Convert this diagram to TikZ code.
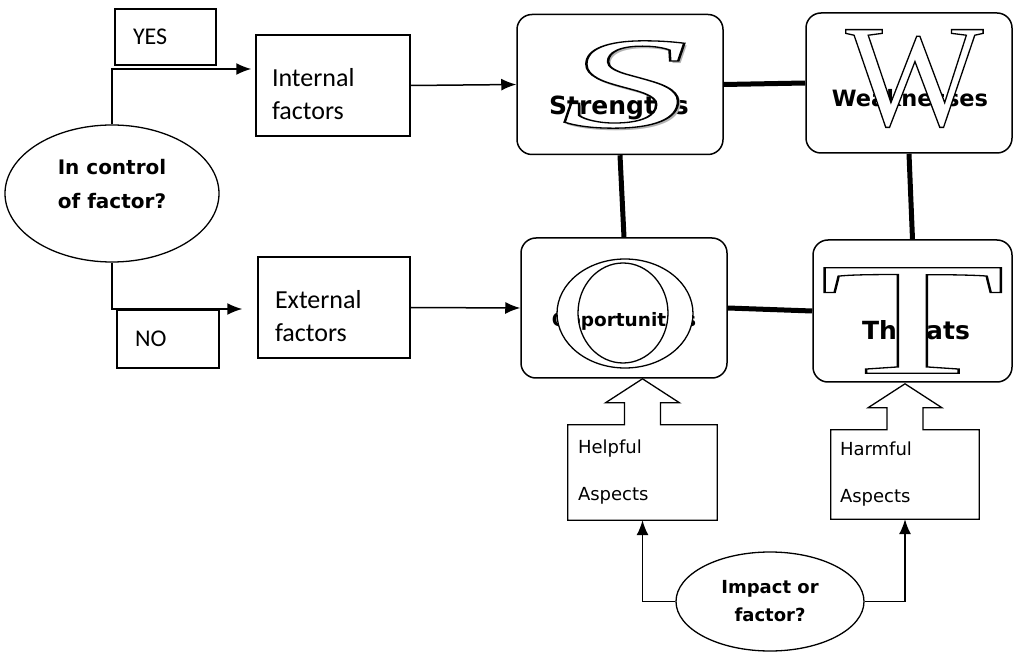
\documentclass[tikz,border=0pt]{standalone}
\usepackage{fontspec}
\setmainfont{Carlito}
\newfontfamily\aspectfont{DejaVu Sans}
\newfontfamily\headfont{DejaVu Sans}
\newfontfamily\letterfont{Liberation Serif}
\usepackage{graphicx}
\usetikzlibrary{shapes.geometric, positioning, calc, arrows.meta}

\newcommand{\hollow}[1]{\special{pdf:literal direct 2 Tr 0 G 1.3 w}#1\special{pdf:literal direct 0 Tr}}
\newcommand{\upcallout}[1]{%
  \draw[line width=1.3pt] (#1.north west) -- ($(#1.north)+(-18,0)$) -- ++(0,-22) -- ++(-19,0)
    -- ($(#1.north)+(0,-46)$) -- ++(37,24) -- ++(-19,0) -- ++(0,22)
    -- (#1.north east) -- (#1.south east) -- (#1.south west) -- cycle;}

\tikzstyle{labelbox} = [draw, rectangle, line width=1.5pt, align=left,
font=\fontsize{26}{33}\selectfont, inner ysep=0pt]
\tikzstyle{answerbox} = [draw, rectangle, line width=1.5pt, align=left,
font=\fontsize{24}{28}\selectfont, inner ysep=0pt]
\tikzstyle{swotbox} = [draw, rectangle, rounded corners=15pt, line width=1.5pt,
fill=white, minimum width=206pt, minimum height=140pt]
\tikzstyle{question} = [draw, ellipse, line width=1.3pt, align=center,
font=\headfont\bfseries\fontsize{20}{34}\selectfont]
\tikzstyle{swotword} = [anchor=base, inner sep=0pt,
font=\headfont\bfseries\fontsize{25}{25}\selectfont]
\tikzstyle{bigletter} = [inner sep=0pt, text=white, font=\letterfont]
\tikzstyle{aspectbox} = [rectangle, align=left, inner ysep=0pt,
font=\aspectfont\fontsize{18}{47}\selectfont]
\tikzstyle{link} = [line width=5pt]
\tikzstyle{flow} = [line width=1.5pt, -{Latex[length=15pt, width=12pt]}]

\begin{document}
\begin{tikzpicture}[x=1pt, y=-1pt]
	\useasboundingbox (0,0) rectangle (1013,652);
	\coordinate (q) at (112, 193.5);
	\coordinate (s) at (620, 84.5);
	\coordinate (w) at (909, 83);
	\coordinate (o) at (624, 308);
	\coordinate (t) at (912.5, 311);
	\coordinate (i) at (770, 601.5);
	%% Question and answers
	\node[question, minimum width=214pt, minimum height=137pt, text depth=20pt](control) at (q) {In control\\of factor?};
	\node[answerbox, minimum width=101pt, minimum height=56pt, text width=65pt, inner xsep=18pt](yes) at (165.5, 37) {YES};
	\node[answerbox, minimum width=102pt, minimum height=58pt, text width=66pt, inner xsep=18pt](no) at (168, 339) {NO};
	\node[labelbox, minimum height=101pt, text width=122pt, inner xsep=16pt, text depth=16pt](internal) at (333, 85.5) {Internal\\factors};
	\node[labelbox, minimum height=101pt, text width=118pt, inner xsep=17pt, text depth=16pt](external) at (334, 307.5) {External\\factors};
	%% SWOT boxes
	\node[swotbox](sbox) at (s) {};
	\node[swotbox](wbox) at (w) {};
	\node[swotbox](obox) at (o) {};
	\node[swotbox, minimum width=199pt, minimum height=142pt](tbox) at (t) {};
	\node[swotword](sword) at ($(s)+(-1,30.5)$) {Strengths};
	\node[swotword, font=\headfont\bfseries\fontsize{22.5}{22.5}\selectfont](wword) at ($(w)+(1,24)$) {Weaknesses};
	\node[swotword, font=\headfont\bfseries\fontsize{18.5}{18.5}\selectfont](oword) at ($(o)+(0,19)$) {Opportunities};
	\node[swotword](tword) at ($(t)+(3.5,29)$) {Threats};
	%% Big letters
	\node[bigletter, text=gray!60](sshadow) at ($(s)+(8,3)$) {\fontsize{130}{130}\selectfont\scalebox{1.95}[1]{\itshape S}};
	\node[bigletter](sletter) at ($(s)+(5,0)$) {\fontsize{130}{130}\selectfont\scalebox{1.95}[1]{\hollow{\itshape S}}};
	\node[bigletter](wletter) at ($(w)+(5.5,-4.5)$) {\fontsize{146}{146}\selectfont\hollow{W}};
	\node[bigletter](tletter) at ($(t)+(0,9.5)$) {\fontsize{161}{161}\selectfont\scalebox{1.9}[1]{\hollow{T}}};
	\draw[line width=1.3pt, fill=white, even odd rule] ($(o)+(1,5.5)$) ellipse [x radius=68, y radius=54.5]
		($(o)+(-1,5)$) ellipse [x radius=45, y radius=50];
	%% Aspects
	\node[aspectbox, minimum width=149pt, minimum height=95pt, text width=129pt, inner xsep=10pt](helpful) at (642.5, 472.5) {Helpful\\Aspects};
	\node[aspectbox, minimum width=148pt, minimum height=89pt, text width=130pt, inner xsep=9pt](harmful) at (905, 474.5) {Harmful\\Aspects};
	\upcallout{helpful}
	\upcallout{harmful}
	\node[question, font=\headfont\bfseries\fontsize{18}{28}\selectfont, minimum width=188pt, minimum height=99pt](impact) at (i) {Impact or\\factor?};
	%% Connectors
	\draw[flow, shorten >=4pt] (control.north) |- ([yshift=16.5pt]internal.west);
	\draw[flow, shorten >=15pt] (control.south) |- ([yshift=-1.5pt]external.west);
	\draw[flow] (internal.east) -- (sbox.west);
	\draw[flow] (external.east) -- (obox.west);
	\draw[link] (sbox.east) -- (wbox.west);
	\draw[link] (sbox.south) -- (obox.north);
	\draw[link] (wbox.south) -- (tbox.north);
	\draw[link] (obox.east) -- (tbox.west);
	\draw[flow] (impact.west) -| (helpful.south);
	\draw[flow] (impact.east) -| (harmful.south);
\end{tikzpicture}
\end{document}
